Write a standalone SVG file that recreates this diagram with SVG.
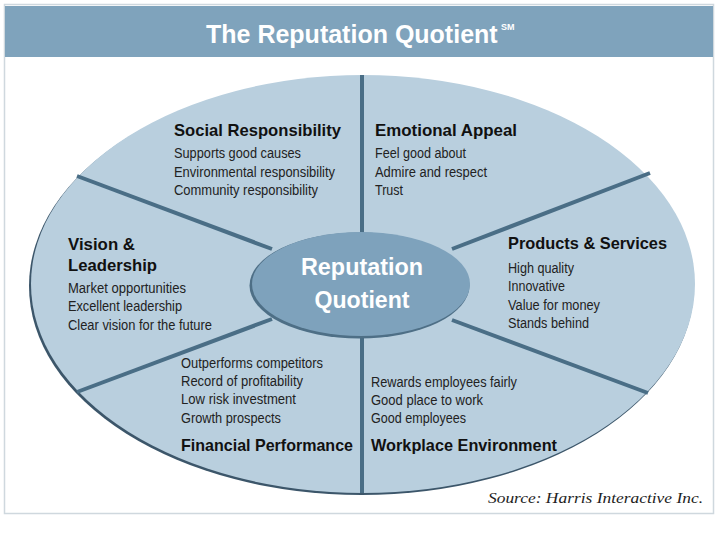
<svg xmlns="http://www.w3.org/2000/svg" width="720" height="540" viewBox="0 0 720 540">
<defs>
<style>
.h{font-family:"Liberation Sans",Arial,sans-serif;font-weight:bold;font-size:17px;fill:#111}
.i{font-family:"Liberation Sans",Arial,sans-serif;font-size:14px;fill:#222}
.w{font-family:"Liberation Sans",Arial,sans-serif;font-weight:bold;fill:#fff}
.d{stroke:#4a6e86;stroke-width:4;fill:none;stroke-linecap:butt}
</style>
</defs>
<rect x="0" y="0" width="720" height="540" fill="#fff"/>
<rect x="4.5" y="4.5" width="709" height="509" fill="#fff" stroke="#cfd8de" stroke-width="1.5"/>
<g id="title">
<rect x="5" y="6" width="708" height="51" fill="#7fa3bc"/>
<text class="w" x="206" y="43" font-size="25">The Reputation Quotient</text>
<text class="w" x="501" y="30" font-size="9">SM</text>
</g>
<g id="outer">
<ellipse cx="361.5" cy="286" rx="332.5" ry="209" fill="#3c566a"/>
<ellipse cx="363" cy="284" rx="332" ry="209" fill="#b9cfde"/>
</g>
<g id="connectors">
<line class="d" x1="362" y1="75" x2="362" y2="234"/>
<line class="d" x1="362" y1="334" x2="362" y2="493"/>
<line class="d" x1="77" y1="176" x2="272" y2="249"/>
<line class="d" x1="650" y1="173" x2="452" y2="249"/>
<line class="d" x1="77" y1="392" x2="272" y2="319"/>
<line class="d" x1="648" y1="393" x2="452" y2="320"/>
</g>
<g id="center">
<ellipse cx="359.5" cy="285.5" rx="110" ry="53" fill="#4e6f86"/>
<ellipse cx="361" cy="284" rx="109" ry="52" fill="#7ea2bc"/>
<text class="w" x="362" y="275" font-size="24" text-anchor="middle" textLength="122" lengthAdjust="spacingAndGlyphs">Reputation</text>
<text class="w" x="362" y="308" font-size="24" text-anchor="middle" textLength="95" lengthAdjust="spacingAndGlyphs">Quotient</text>
</g>
<g id="social">
<text class="h" x="174" y="136" textLength="167" lengthAdjust="spacingAndGlyphs">Social Responsibility</text>
<text class="i" x="174" y="158" textLength="127" lengthAdjust="spacingAndGlyphs">Supports good causes</text>
<text class="i" x="174" y="177" textLength="161" lengthAdjust="spacingAndGlyphs">Environmental responsibility</text>
<text class="i" x="174" y="195" textLength="144" lengthAdjust="spacingAndGlyphs">Community responsibility</text>
</g>
<g id="emotional">
<text class="h" x="375" y="136" textLength="142" lengthAdjust="spacingAndGlyphs">Emotional Appeal</text>
<text class="i" x="375" y="158" textLength="91" lengthAdjust="spacingAndGlyphs">Feel good about</text>
<text class="i" x="375" y="177" textLength="112" lengthAdjust="spacingAndGlyphs">Admire and respect</text>
<text class="i" x="375" y="195" textLength="28" lengthAdjust="spacingAndGlyphs">Trust</text>
</g>
<g id="vision">
<text class="h" x="68" y="250" textLength="67" lengthAdjust="spacingAndGlyphs">Vision &amp;</text>
<text class="h" x="68" y="271" textLength="89" lengthAdjust="spacingAndGlyphs">Leadership</text>
<text class="i" x="68" y="293" textLength="118" lengthAdjust="spacingAndGlyphs">Market opportunities</text>
<text class="i" x="68" y="311" textLength="114" lengthAdjust="spacingAndGlyphs">Excellent leadership</text>
<text class="i" x="68" y="330" textLength="144" lengthAdjust="spacingAndGlyphs">Clear vision for the future</text>
</g>
<g id="products">
<text class="h" x="508" y="249" textLength="159" lengthAdjust="spacingAndGlyphs">Products &amp; Services</text>
<text class="i" x="508" y="273" textLength="66" lengthAdjust="spacingAndGlyphs">High quality</text>
<text class="i" x="508" y="291" textLength="57" lengthAdjust="spacingAndGlyphs">Innovative</text>
<text class="i" x="508" y="310" textLength="92" lengthAdjust="spacingAndGlyphs">Value for money</text>
<text class="i" x="508" y="328" textLength="81" lengthAdjust="spacingAndGlyphs">Stands behind</text>
</g>
<g id="financial">
<text class="i" x="181" y="368" textLength="142" lengthAdjust="spacingAndGlyphs">Outperforms competitors</text>
<text class="i" x="181" y="386" textLength="122" lengthAdjust="spacingAndGlyphs">Record of profitability</text>
<text class="i" x="181" y="404" textLength="115" lengthAdjust="spacingAndGlyphs">Low risk investment</text>
<text class="i" x="181" y="423" textLength="100" lengthAdjust="spacingAndGlyphs">Growth prospects</text>
<text class="h" x="181" y="451" textLength="172" lengthAdjust="spacingAndGlyphs">Financial Performance</text>
</g>
<g id="workplace">
<text class="i" x="371" y="387" textLength="146" lengthAdjust="spacingAndGlyphs">Rewards employees fairly</text>
<text class="i" x="371" y="405" textLength="112" lengthAdjust="spacingAndGlyphs">Good place to work</text>
<text class="i" x="371" y="423" textLength="95" lengthAdjust="spacingAndGlyphs">Good employees</text>
<text class="h" x="371" y="451" textLength="186" lengthAdjust="spacingAndGlyphs">Workplace Environment</text>
</g>
<g id="source">
<text x="488" y="503" font-family="'Liberation Serif','Times New Roman',serif" font-style="italic" font-size="15" fill="#222" textLength="215" lengthAdjust="spacingAndGlyphs">Source: Harris Interactive Inc.</text>
</g>
</svg>
